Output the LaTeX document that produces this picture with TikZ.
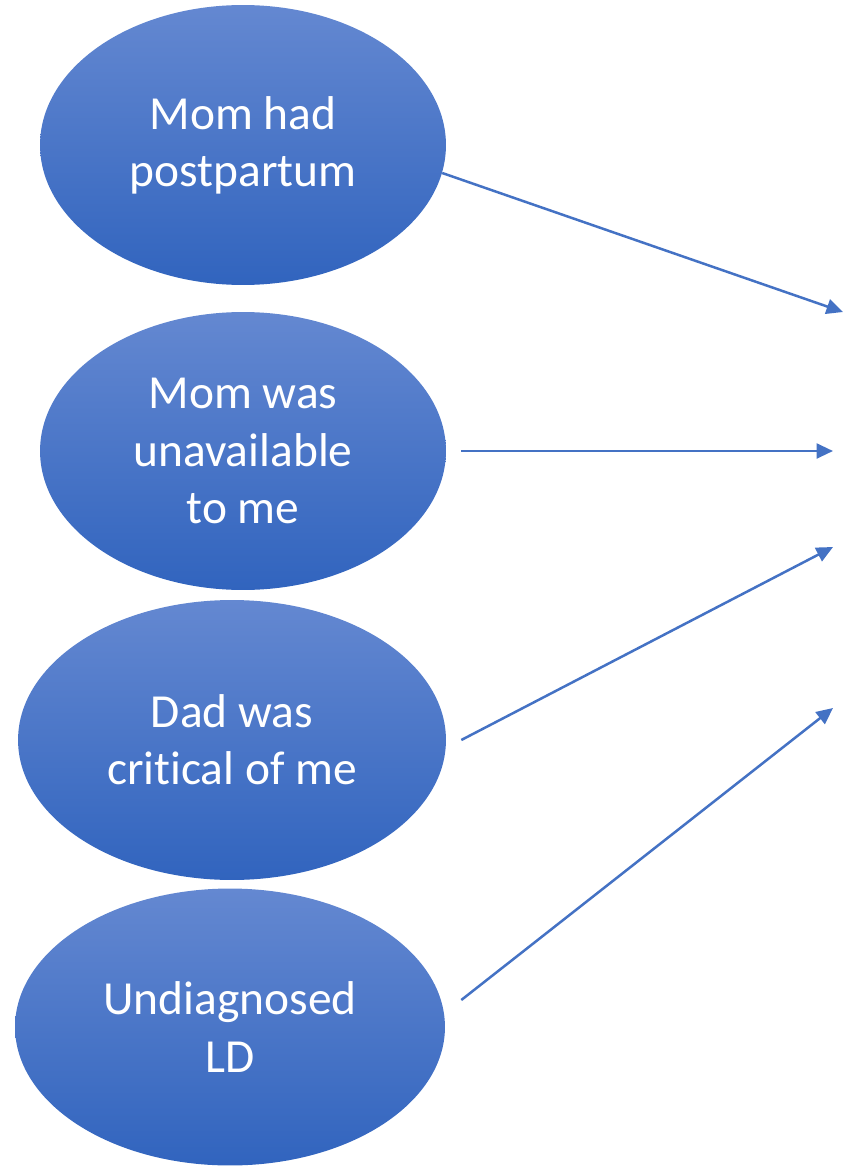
\documentclass[tikz,border=0pt]{standalone}
\usepackage{xcolor}
\usepackage{fontspec}
\setmainfont[RawFeature={-liga;-clig;-dlig;-calt}]{Carlito}
\usepackage{tikz}
\usetikzlibrary{arrows.meta, shapes.geometric}

\begin{document}
\begin{tikzpicture}[x=0.02cm, y=-0.02cm, >={Triangle[length=0.33cm, width=0.3cm]}, every node/.style={align=center}]
      \definecolor{ovaltop}{RGB}{100,136,209} \definecolor{ovalbot}{RGB}{49,100,190} \definecolor{linkblue}{RGB}{68,114,196}
      \tikzset{cause/.style={ellipse, inner sep=0pt, draw=none, text=white, top color=ovaltop, bottom color=ovalbot, font=\fontsize{27}{32.5}\selectfont},
        link/.style={->, draw=linkblue, line width=0.05cm}}
      \useasboundingbox (0, 0) rectangle (843, 1166);
      \node[cause, minimum width=8.12cm, minimum height=5.6cm] (postpartum) at (243, 145) {Mom had\\postpartum};
      \node[cause, minimum width=8.12cm, minimum height=5.56cm] (unavailable) at (243, 451) {Mom was\\unavailable\\to me};
      \node[cause, minimum width=8.56cm, minimum height=5.6cm] (critical) at (232, 740) {Dad was\\critical of me};
      \node[cause, minimum width=8.6cm, minimum height=5.54cm] (undiagnosed) at (230, 1027) {Undiagnosed\\LD};
      \coordinate (tipA) at (843, 312); \coordinate (tipB) at (833, 451);
      \coordinate (tipC) at (833, 547); \coordinate (tipD) at (833, 708);
      \draw[link] (postpartum.-8.4) -- (tipA);
      \draw[link] ([xshift=0.3cm]unavailable.east) -- (tipB);
      \draw[link] ([xshift=0.3cm]critical.east) -- (tipC);
      \draw[link] ([xshift=0.32cm, yshift=0.54cm]undiagnosed.east) -- (tipD);
    \end{tikzpicture}
\end{document}
